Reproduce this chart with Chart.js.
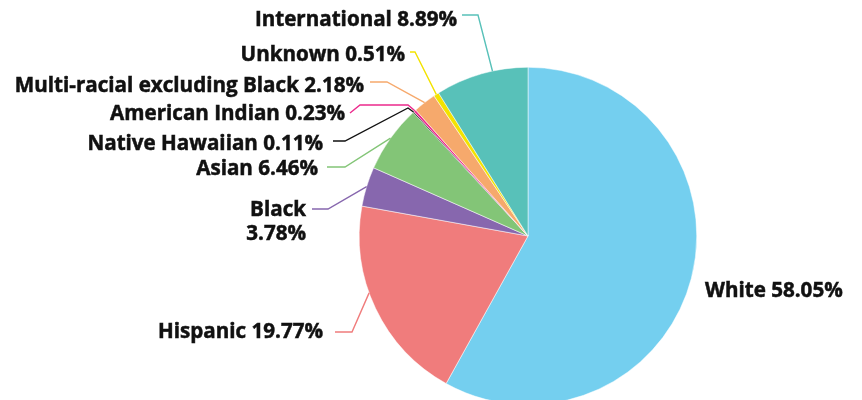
<!DOCTYPE html>
<html>
<head>
<meta charset="utf-8">
<script src="https://cdn.jsdelivr.net/npm/chart.js@4.4.1/dist/chart.umd.min.js"></script>
<style>
  html, body { margin: 0; padding: 0; background: #fff; overflow: hidden; }
  #wrap { width: 862px; height: 420px; }
</style>
</head>
<body>
<div id="wrap"><canvas id="chart"></canvas></div>
<script>
const groups = ['White', 'Hispanic', 'Black', 'Asian', 'Native Hawaiian', 'American Indian',
  'Multi-racial excluding Black', 'Unknown', 'International'];
const shares = [58.05, 19.77, 3.78, 6.46, 0.11, 0.23, 2.18, 0.51, 8.89];
const sliceColors = ['#74cfef', '#f07c7c', '#8767ae', '#83c577', '#111111', '#ec2a8c',
  '#f6a96c', '#f3e300', '#58c1b9'];

// callout placement: text anchor (x, baseline), leader points from the text side,
// and where along the slice the leader meets the rim (0..1)
const callouts = [
  { x: 705, y: [297], align: 'left', path: [] },
  { x: 323, y: [338], path: [[335, 332], [352, 332]], t: 0.58 },
  { x: 306, y: [216, 240], split: true, path: [[312, 209], [328, 209]], t: 0.5 },
  { x: 318, y: [175], path: [[327, 167], [345, 167]], t: 0.5 },
  { x: 323, y: [150], path: [[333, 141], [345, 141], [408, 108]], t: 0.5 },
  { x: 345, y: [120], path: [[350, 113], [360, 105], [408, 105]], t: 0.5 },
  { x: 364, y: [92], path: [[370, 82], [387, 82]], t: 0.5 },
  { x: 405, y: [61], path: [[410, 52], [415, 52]], t: 0.5 },
  { x: 457, y: [26], path: [[462, 15], [478, 15]], t: 0.62 }
];

const calloutPlugin = {
  id: 'callouts',
  afterDatasetsDraw(chart) {
    const ctx = chart.ctx;
    const arcs = chart.getDatasetMeta(0).data;
    ctx.save();
    ctx.font = 'bold 20.6px "Open Sans"';
    ctx.fillStyle = '#111111';
    ctx.textBaseline = 'alphabetic';
    arcs.forEach((arc, i) => {
      const c = callouts[i];
      const value = shares[i].toFixed(2) + '%';
      const lines = c.split ? [groups[i], value] : [groups[i] + ' ' + value];
      if (c.path.length) {
        const a = arc.startAngle + c.t * (arc.endAngle - arc.startAngle);
        const ex = arc.x + arc.outerRadius * Math.cos(a);
        const ey = arc.y + arc.outerRadius * Math.sin(a);
        ctx.beginPath();
        ctx.strokeStyle = sliceColors[i];
        ctx.lineWidth = 1.4;
        ctx.moveTo(c.path[0][0], c.path[0][1]);
        c.path.slice(1).forEach(p => ctx.lineTo(p[0], p[1]));
        ctx.lineTo(ex, ey);
        ctx.stroke();
      }
      ctx.textAlign = c.align || 'right';
      // a hairline stroke thickens the bold face a little
      ctx.strokeStyle = '#111111';
      ctx.lineWidth = 0.5;
      lines.forEach((s, k) => {
        ctx.fillText(s, c.x, c.y[k]);
        ctx.strokeText(s, c.x, c.y[k]);
      });
    });
    ctx.restore();
  }
};

new Chart(document.getElementById('chart'), {
  type: 'pie',
  data: {
    labels: groups,
    datasets: [{
      data: shares,
      backgroundColor: sliceColors,
      borderColor: '#ffffff',
      borderWidth: 0.5
    }]
  },
  options: {
    responsive: true,
    maintainAspectRatio: false,
    animation: false,
    events: [],
    layout: { padding: { left: 359, right: 165, top: 67, bottom: 15 } },
    plugins: { legend: { display: false }, tooltip: { enabled: false } }
  },
  plugins: [calloutPlugin]
});
</script>
</body>
</html>
